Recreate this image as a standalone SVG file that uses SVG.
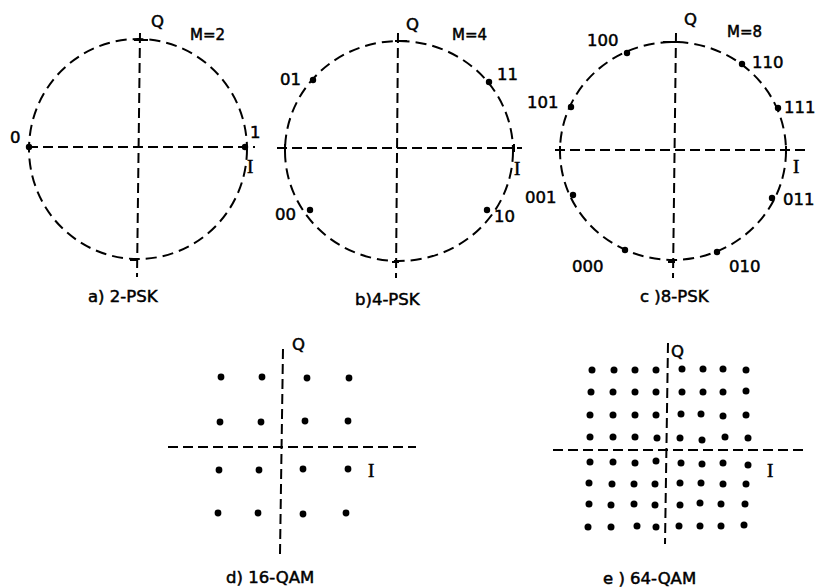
<svg xmlns="http://www.w3.org/2000/svg" width="825" height="587" viewBox="0 0 825 587">
<style>
.c{fill:none;stroke:#000;stroke-width:2;stroke-dasharray:11 6}
.a{fill:none;stroke:#000;stroke-width:2;stroke-dasharray:10 5}
.t{fill:none;stroke:#000;stroke-width:2}
.d{fill:#000}
text{font-family:"DejaVu Sans","Liberation Sans",sans-serif;font-size:16.5px;fill:#000;stroke:#000;stroke-width:0.5}
.s{font-size:15px}
.i{font-family:"Liberation Serif",serif;font-size:19px}
</style>
<rect width="825" height="587" fill="#fff"/>
<g id="psk2">
<ellipse class="c" cx="138" cy="149" rx="109" ry="110"/>
<line class="a" x1="28" y1="147" x2="255" y2="147"/>
<line class="a" x1="140" y1="33" x2="137" y2="277"/>
<path class="t" d="M134 40h14M130 260h7"/>
<circle class="d" cx="29" cy="147" r="3.2"/>
<circle class="d" cx="245" cy="147" r="3.2"/>
<text x="151" y="27">Q</text>
<text x="190" y="40" class="s">M=2</text>
<text x="10" y="143">0</text>
<text x="250" y="138">1</text>
<text x="247" y="173" class="i">I</text>
<text x="88" y="302">a) 2-PSK</text>
</g>
<g id="psk4">
<ellipse class="c" cx="399" cy="151" rx="114" ry="110"/>
<line class="a" x1="277" y1="148" x2="522" y2="148"/>
<line class="a" x1="398" y1="33" x2="396" y2="278"/>
<path class="t" d="M395 41h12M285 144v8M514 144v8M392 262h7"/>
<circle class="d" cx="313" cy="80" r="3.2"/>
<circle class="d" cx="489" cy="82" r="3.2"/>
<circle class="d" cx="310" cy="210" r="3.2"/>
<circle class="d" cx="487" cy="210" r="3.2"/>
<text x="406" y="30">Q</text>
<text x="452" y="40" class="s">M=4</text>
<text x="280" y="85">01</text>
<text x="497" y="80">11</text>
<text x="275" y="220">00</text>
<text x="494" y="222">10</text>
<text x="514" y="175" class="i">I</text>
<text x="355" y="305">b)4-PSK</text>
</g>
<g id="psk8">
<ellipse class="c" cx="673" cy="151" rx="113" ry="109"/>
<line class="a" x1="555" y1="150" x2="806" y2="150"/>
<line class="a" x1="676" y1="33" x2="673" y2="278"/>
<path class="t" d="M663 42h17M668 262h7M560 146v8M786 146v8"/>
<circle class="d" cx="627" cy="53" r="3.2"/>
<circle class="d" cx="742" cy="64" r="3.2"/>
<circle class="d" cx="778" cy="108" r="3.2"/>
<circle class="d" cx="571" cy="107" r="3.2"/>
<circle class="d" cx="573" cy="195" r="3.2"/>
<circle class="d" cx="772" cy="198" r="3.2"/>
<circle class="d" cx="625" cy="250" r="3.2"/>
<circle class="d" cx="717" cy="252" r="3.2"/>
<text x="684" y="25">Q</text>
<text x="727" y="37" class="s">M=8</text>
<text x="587" y="46">100</text>
<text x="752" y="68">110</text>
<text x="784" y="113">111</text>
<text x="527" y="108">101</text>
<text x="525" y="203">001</text>
<text x="783" y="205">011</text>
<text x="572" y="272">000</text>
<text x="729" y="272">010</text>
<text x="793" y="173" class="i">I</text>
<text x="640" y="302">c )8-PSK</text>
</g>
<g id="qam16">
<line class="a" x1="168" y1="447" x2="416" y2="447"/>
<line class="a" x1="283" y1="349" x2="280" y2="554"/>
<g class="d">
<circle cx="221" cy="377" r="3.4"/><circle cx="262" cy="377" r="3.4"/><circle cx="307" cy="378" r="3.4"/><circle cx="349" cy="378" r="3.4"/>
<circle cx="220" cy="422" r="3.4"/><circle cx="261" cy="422" r="3.4"/><circle cx="305" cy="421" r="3.4"/><circle cx="348" cy="421" r="3.4"/>
<circle cx="219" cy="470" r="3.4"/><circle cx="259" cy="470" r="3.4"/><circle cx="303" cy="469" r="3.4"/><circle cx="348" cy="469" r="3.4"/>
<circle cx="218" cy="513" r="3.4"/><circle cx="258" cy="513" r="3.4"/><circle cx="303" cy="514" r="3.4"/><circle cx="346" cy="513" r="3.4"/>
</g>
<text x="292" y="350">Q</text>
<text x="368" y="477" class="i">I</text>
<text x="226" y="583">d) 16-QAM</text>
</g>
<g id="qam64">
<line class="a" x1="553" y1="450" x2="806" y2="450"/>
<line class="a" x1="668" y1="343" x2="665" y2="544"/>
<g class="d">
<circle cx="592" cy="370" r="3.5"/><circle cx="614" cy="370" r="3.5"/><circle cx="635" cy="370" r="3.5"/><circle cx="656" cy="370" r="3.5"/><circle cx="682" cy="369" r="3.5"/><circle cx="703" cy="369" r="3.5"/><circle cx="723" cy="369" r="3.5"/><circle cx="746" cy="370" r="3.5"/>
<circle cx="591" cy="392" r="3.5"/><circle cx="613" cy="392" r="3.5"/><circle cx="635" cy="392" r="3.5"/><circle cx="656" cy="392" r="3.5"/><circle cx="682" cy="392" r="3.5"/><circle cx="703" cy="392" r="3.5"/><circle cx="723" cy="392" r="3.5"/><circle cx="746" cy="391" r="3.5"/>
<circle cx="590" cy="415" r="3.5"/><circle cx="613" cy="415" r="3.5"/><circle cx="635" cy="415" r="3.5"/><circle cx="656" cy="415" r="3.5"/><circle cx="681" cy="414" r="3.5"/><circle cx="701" cy="414" r="3.5"/><circle cx="723" cy="416" r="3.5"/><circle cx="746" cy="415" r="3.5"/>
<circle cx="590" cy="437" r="3.5"/><circle cx="613" cy="437" r="3.5"/><circle cx="635" cy="437" r="3.5"/><circle cx="657" cy="438" r="3.5"/><circle cx="680" cy="438" r="3.5"/><circle cx="702" cy="440" r="3.5"/><circle cx="725" cy="437" r="3.5"/><circle cx="748" cy="438" r="3.5"/>
<circle cx="590" cy="462" r="3.5"/><circle cx="613" cy="462" r="3.5"/><circle cx="635" cy="463" r="3.5"/><circle cx="656" cy="461" r="3.5"/><circle cx="681" cy="463" r="3.5"/><circle cx="702" cy="464" r="3.5"/><circle cx="723" cy="463" r="3.5"/><circle cx="748" cy="465" r="3.5"/>
<circle cx="589" cy="483" r="3.5"/><circle cx="612" cy="484" r="3.5"/><circle cx="634" cy="484" r="3.5"/><circle cx="655" cy="484" r="3.5"/><circle cx="680" cy="483" r="3.5"/><circle cx="701" cy="483" r="3.5"/><circle cx="723" cy="484" r="3.5"/><circle cx="746" cy="484" r="3.5"/>
<circle cx="589" cy="504" r="3.5"/><circle cx="611" cy="505" r="3.5"/><circle cx="634" cy="504" r="3.5"/><circle cx="655" cy="505" r="3.5"/><circle cx="680" cy="505" r="3.5"/><circle cx="700" cy="503" r="3.5"/><circle cx="721" cy="504" r="3.5"/><circle cx="745" cy="504" r="3.5"/>
<circle cx="588" cy="527" r="3.5"/><circle cx="611" cy="527" r="3.5"/><circle cx="637" cy="526" r="3.5"/><circle cx="656" cy="527" r="3.5"/><circle cx="679" cy="526" r="3.5"/><circle cx="700" cy="526" r="3.5"/><circle cx="721" cy="526" r="3.5"/><circle cx="744" cy="525" r="3.5"/>
</g>
<text x="671" y="357">Q</text>
<text x="767" y="477" class="i">I</text>
<text x="603" y="584">e ) 64-QAM</text>
</g>
</svg>
